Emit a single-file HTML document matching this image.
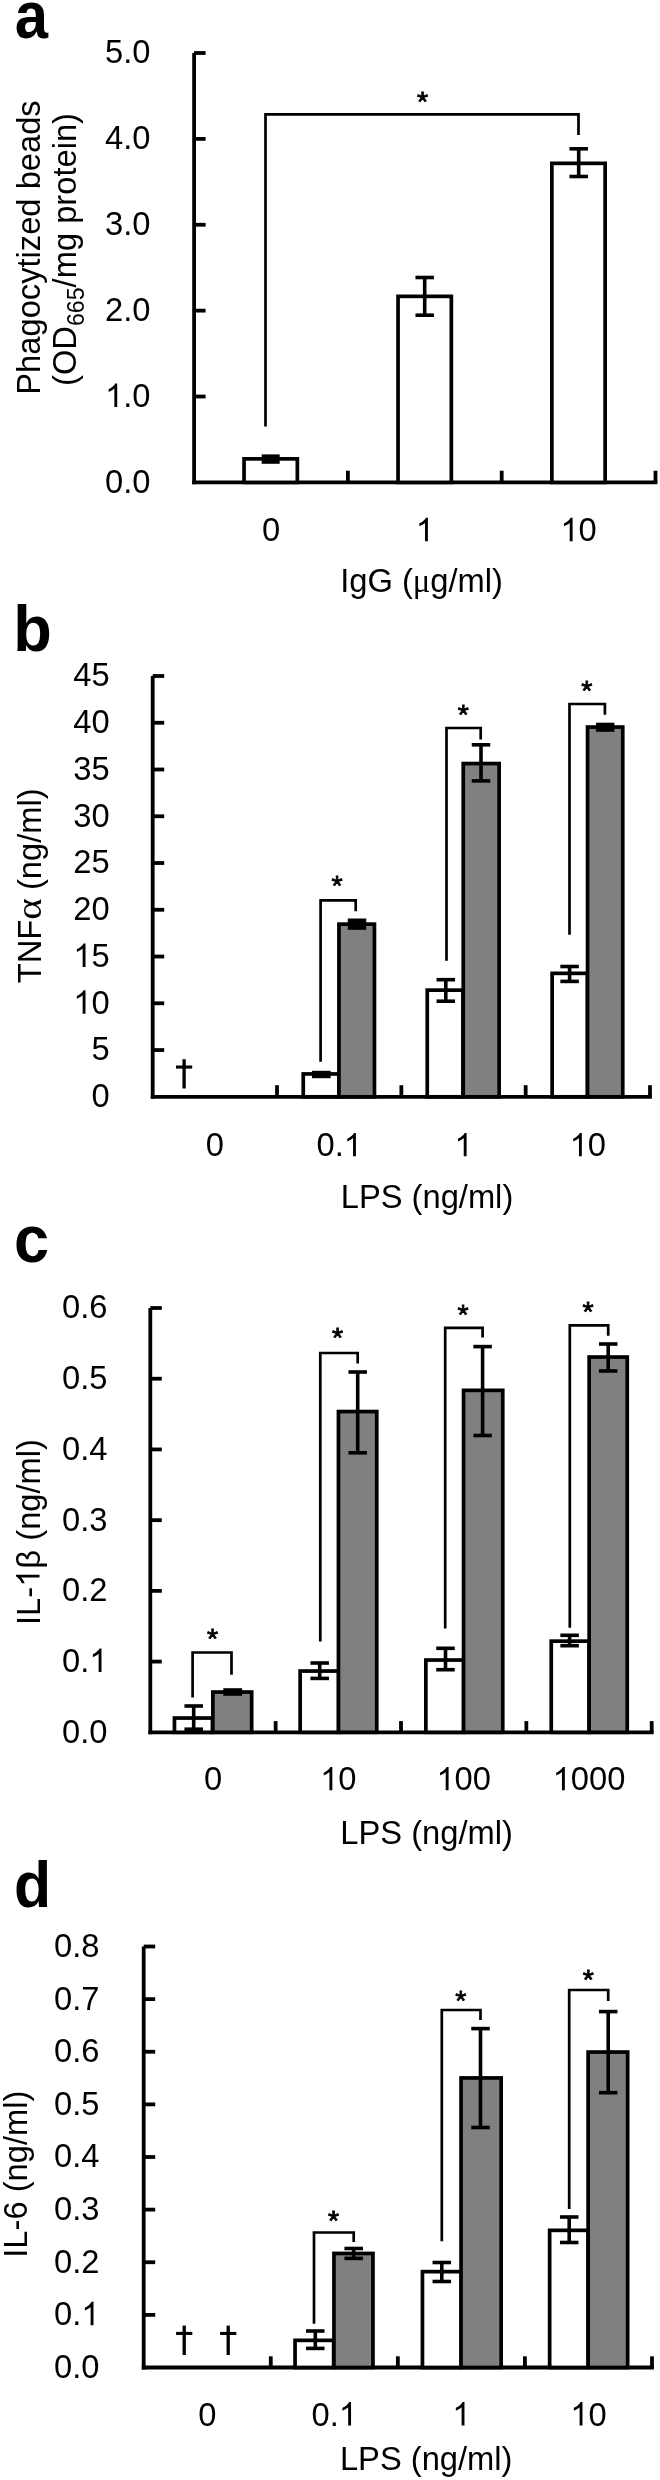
<!DOCTYPE html>
<html><head><meta charset="utf-8"><title>Figure</title>
<style>
html,body{margin:0;padding:0;background:#fff;}
svg{display:block;filter:grayscale(1);font-family:"Liberation Sans",sans-serif;fill:#000;}
</style></head><body>
<svg width="660" height="2480" viewBox="0 0 660 2480">
<rect width="660" height="2480" fill="#fff"/>
<text transform="translate(16.40 37.50) scale(0.935 1.047)" x="-1.9" y="0" font-size="64" font-weight="700">a</text>
<line x1="194.10" y1="53.00" x2="194.10" y2="484.30" stroke="#000" stroke-width="3.8" stroke-linecap="butt"/>
<line x1="192.20" y1="482.40" x2="657.40" y2="482.40" stroke="#000" stroke-width="3.8" stroke-linecap="butt"/>
<line x1="655.50" y1="482.40" x2="655.50" y2="470.70" stroke="#000" stroke-width="3.8" stroke-linecap="butt"/>
<line x1="194.10" y1="53.00" x2="205.60" y2="53.00" stroke="#000" stroke-width="3.8" stroke-linecap="butt"/>
<line x1="194.10" y1="138.88" x2="205.60" y2="138.88" stroke="#000" stroke-width="3.8" stroke-linecap="butt"/>
<line x1="194.10" y1="224.76" x2="205.60" y2="224.76" stroke="#000" stroke-width="3.8" stroke-linecap="butt"/>
<line x1="194.10" y1="310.64" x2="205.60" y2="310.64" stroke="#000" stroke-width="3.8" stroke-linecap="butt"/>
<line x1="194.10" y1="396.52" x2="205.60" y2="396.52" stroke="#000" stroke-width="3.8" stroke-linecap="butt"/>
<line x1="347.90" y1="482.40" x2="347.90" y2="470.70" stroke="#000" stroke-width="3.8" stroke-linecap="butt"/>
<line x1="501.70" y1="482.40" x2="501.70" y2="470.70" stroke="#000" stroke-width="3.8" stroke-linecap="butt"/>
<g><text x="105.04" y="63.40" font-size="32.7">5.0</text></g>
<g><text x="105.04" y="149.28" font-size="32.7">4.0</text></g>
<g><text x="105.04" y="235.16" font-size="32.7">3.0</text></g>
<g><text x="105.04" y="321.04" font-size="32.7">2.0</text></g>
<g><path transform="translate(105.04 406.92) scale(0.01597 -0.01597)" d="M763 0H583V1147Q518 1085 412.5 1023T223 930V1104Q373 1174.5 485.5 1275T644 1466H763Z"/><text x="123.23" y="406.92" font-size="32.7">.0</text></g>
<g><text x="105.04" y="492.80" font-size="32.7">0.0</text></g>
<rect x="244.05" y="458.85" width="53.30" height="23.55" fill="#fff" stroke="#000" stroke-width="3.7"/>
<rect x="398.05" y="296.35" width="53.30" height="186.05" fill="#fff" stroke="#000" stroke-width="3.7"/>
<rect x="551.85" y="163.35" width="53.30" height="319.05" fill="#fff" stroke="#000" stroke-width="3.7"/>
<rect x="261.70" y="454.40" width="18" height="9.40" fill="#000"/>
<line x1="424.70" y1="277.50" x2="424.70" y2="315.20" stroke="#000" stroke-width="3.6" stroke-linecap="butt"/>
<line x1="415.45" y1="277.50" x2="433.95" y2="277.50" stroke="#000" stroke-width="3.6" stroke-linecap="butt"/>
<line x1="415.45" y1="315.20" x2="433.95" y2="315.20" stroke="#000" stroke-width="3.6" stroke-linecap="butt"/>
<line x1="578.70" y1="148.80" x2="578.70" y2="176.50" stroke="#000" stroke-width="3.6" stroke-linecap="butt"/>
<line x1="569.45" y1="148.80" x2="587.95" y2="148.80" stroke="#000" stroke-width="3.6" stroke-linecap="butt"/>
<line x1="569.45" y1="176.50" x2="587.95" y2="176.50" stroke="#000" stroke-width="3.6" stroke-linecap="butt"/>
<path d="M265.50 426.50 V114.30 H578.50 V135.00" fill="none" stroke="#000" stroke-width="2.7" stroke-linejoin="miter"/>
<text x="422.50" y="111.20" font-size="28.5" text-anchor="middle" stroke="#000" stroke-width="0.8">*</text>
<g><text x="261.91" y="541.20" font-size="32.7">0</text></g>
<g><path transform="translate(415.71 541.20) scale(0.01597 -0.01597)" d="M763 0H583V1147Q518 1085 412.5 1023T223 930V1104Q373 1174.5 485.5 1275T644 1466H763Z"/></g>
<g><path transform="translate(560.41 541.20) scale(0.01597 -0.01597)" d="M763 0H583V1147Q518 1085 412.5 1023T223 930V1104Q373 1174.5 485.5 1275T644 1466H763Z"/><text x="578.60" y="541.20" font-size="32.7">0</text></g>
<text x="421.60" y="592.30" font-size="32.7" text-anchor="middle">IgG (<tspan font-family="Liberation Serif">μ</tspan>g/ml)</text>
<text x="39.50" y="247.50" font-size="32.7" text-anchor="middle" transform="rotate(-90 39.50 247.50)">Phagocytized beads</text>
<text x="76.00" y="249.50" font-size="32.7" text-anchor="middle" transform="rotate(-90 76.00 249.50)">(OD<tspan font-size="23.2" dy="8.3">665</tspan><tspan dy="-8.3">/mg protein)</tspan></text>
<text transform="translate(17.60 650.60) scale(0.985 1.0)" x="-4.5" y="0" font-size="64" font-weight="700">b</text>
<line x1="152.70" y1="676.00" x2="152.70" y2="1098.70" stroke="#000" stroke-width="3.8" stroke-linecap="butt"/>
<line x1="150.80" y1="1096.80" x2="651.90" y2="1096.80" stroke="#000" stroke-width="3.8" stroke-linecap="butt"/>
<line x1="650.00" y1="1096.80" x2="650.00" y2="1085.20" stroke="#000" stroke-width="3.8" stroke-linecap="butt"/>
<line x1="152.70" y1="676.00" x2="164.20" y2="676.00" stroke="#000" stroke-width="3.8" stroke-linecap="butt"/>
<line x1="152.70" y1="722.76" x2="164.20" y2="722.76" stroke="#000" stroke-width="3.8" stroke-linecap="butt"/>
<line x1="152.70" y1="769.51" x2="164.20" y2="769.51" stroke="#000" stroke-width="3.8" stroke-linecap="butt"/>
<line x1="152.70" y1="816.27" x2="164.20" y2="816.27" stroke="#000" stroke-width="3.8" stroke-linecap="butt"/>
<line x1="152.70" y1="863.02" x2="164.20" y2="863.02" stroke="#000" stroke-width="3.8" stroke-linecap="butt"/>
<line x1="152.70" y1="909.78" x2="164.20" y2="909.78" stroke="#000" stroke-width="3.8" stroke-linecap="butt"/>
<line x1="152.70" y1="956.53" x2="164.20" y2="956.53" stroke="#000" stroke-width="3.8" stroke-linecap="butt"/>
<line x1="152.70" y1="1003.29" x2="164.20" y2="1003.29" stroke="#000" stroke-width="3.8" stroke-linecap="butt"/>
<line x1="152.70" y1="1050.04" x2="164.20" y2="1050.04" stroke="#000" stroke-width="3.8" stroke-linecap="butt"/>
<line x1="277.02" y1="1096.80" x2="277.02" y2="1085.20" stroke="#000" stroke-width="3.8" stroke-linecap="butt"/>
<line x1="401.35" y1="1096.80" x2="401.35" y2="1085.20" stroke="#000" stroke-width="3.8" stroke-linecap="butt"/>
<line x1="525.67" y1="1096.80" x2="525.67" y2="1085.20" stroke="#000" stroke-width="3.8" stroke-linecap="butt"/>
<g><text x="73.33" y="686.40" font-size="32.7">45</text></g>
<g><text x="73.33" y="733.16" font-size="32.7">40</text></g>
<g><text x="73.33" y="779.91" font-size="32.7">35</text></g>
<g><text x="73.33" y="826.67" font-size="32.7">30</text></g>
<g><text x="73.33" y="873.42" font-size="32.7">25</text></g>
<g><text x="73.33" y="920.18" font-size="32.7">20</text></g>
<g><path transform="translate(73.33 966.93) scale(0.01597 -0.01597)" d="M763 0H583V1147Q518 1085 412.5 1023T223 930V1104Q373 1174.5 485.5 1275T644 1466H763Z"/><text x="91.51" y="966.93" font-size="32.7">5</text></g>
<g><path transform="translate(73.33 1013.69) scale(0.01597 -0.01597)" d="M763 0H583V1147Q518 1085 412.5 1023T223 930V1104Q373 1174.5 485.5 1275T644 1466H763Z"/><text x="91.51" y="1013.69" font-size="32.7">0</text></g>
<g><text x="91.51" y="1060.44" font-size="32.7">5</text></g>
<g><text x="91.51" y="1107.20" font-size="32.7">0</text></g>
<rect x="303.25" y="1073.95" width="35.70" height="22.85" fill="#fff" stroke="#000" stroke-width="3.7"/>
<rect x="338.95" y="924.15" width="35.50" height="172.65" fill="#808080" stroke="#000" stroke-width="3.7"/>
<rect x="427.25" y="990.15" width="35.70" height="106.65" fill="#fff" stroke="#000" stroke-width="3.7"/>
<rect x="463.25" y="763.55" width="35.90" height="333.25" fill="#808080" stroke="#000" stroke-width="3.7"/>
<rect x="552.15" y="973.35" width="35.30" height="123.45" fill="#fff" stroke="#000" stroke-width="3.7"/>
<rect x="587.55" y="727.05" width="35.20" height="369.75" fill="#808080" stroke="#000" stroke-width="3.7"/>
<rect x="312.00" y="1070.80" width="18.6" height="7.40" fill="#000"/>
<rect x="347.75" y="918.50" width="18.5" height="11.30" fill="#000"/>
<line x1="445.80" y1="979.70" x2="445.80" y2="1001.20" stroke="#000" stroke-width="3.6" stroke-linecap="butt"/>
<line x1="436.55" y1="979.70" x2="455.05" y2="979.70" stroke="#000" stroke-width="3.6" stroke-linecap="butt"/>
<line x1="436.55" y1="1001.20" x2="455.05" y2="1001.20" stroke="#000" stroke-width="3.6" stroke-linecap="butt"/>
<line x1="481.00" y1="744.80" x2="481.00" y2="780.90" stroke="#000" stroke-width="3.6" stroke-linecap="butt"/>
<line x1="471.75" y1="744.80" x2="490.25" y2="744.80" stroke="#000" stroke-width="3.6" stroke-linecap="butt"/>
<line x1="471.75" y1="780.90" x2="490.25" y2="780.90" stroke="#000" stroke-width="3.6" stroke-linecap="butt"/>
<line x1="569.60" y1="966.50" x2="569.60" y2="981.40" stroke="#000" stroke-width="3.6" stroke-linecap="butt"/>
<line x1="560.35" y1="966.50" x2="578.85" y2="966.50" stroke="#000" stroke-width="3.6" stroke-linecap="butt"/>
<line x1="560.35" y1="981.40" x2="578.85" y2="981.40" stroke="#000" stroke-width="3.6" stroke-linecap="butt"/>
<rect x="596.05" y="722.70" width="18.3" height="9.10" fill="#000"/>
<path d="M320.60 1061.70 V900.30 H355.70 V911.20" fill="none" stroke="#000" stroke-width="2.7" stroke-linejoin="miter"/>
<path d="M446.50 960.70 V728.00 H480.70 V739.40" fill="none" stroke="#000" stroke-width="2.7" stroke-linejoin="miter"/>
<path d="M569.50 934.80 V704.00 H604.90 V714.70" fill="none" stroke="#000" stroke-width="2.7" stroke-linejoin="miter"/>
<text x="337.00" y="895.00" font-size="28.5" text-anchor="middle" stroke="#000" stroke-width="0.8">*</text>
<text x="463.40" y="724.20" font-size="28.5" text-anchor="middle" stroke="#000" stroke-width="0.8">*</text>
<text x="586.70" y="700.20" font-size="28.5" text-anchor="middle" stroke="#000" stroke-width="0.8">*</text>
<rect x="182.45" y="1059.20" width="3.3" height="29.30"/>
<rect x="176.00" y="1065.50" width="16.2" height="3.1"/>
<g><text x="205.77" y="1156.30" font-size="32.7">0</text></g>
<g><text x="316.46" y="1156.30" font-size="32.7">0.</text><path transform="translate(343.73 1156.30) scale(0.01597 -0.01597)" d="M763 0H583V1147Q518 1085 412.5 1023T223 930V1104Q373 1174.5 485.5 1275T644 1466H763Z"/></g>
<g><path transform="translate(454.42 1156.30) scale(0.01597 -0.01597)" d="M763 0H583V1147Q518 1085 412.5 1023T223 930V1104Q373 1174.5 485.5 1275T644 1466H763Z"/></g>
<g><path transform="translate(569.65 1156.30) scale(0.01597 -0.01597)" d="M763 0H583V1147Q518 1085 412.5 1023T223 930V1104Q373 1174.5 485.5 1275T644 1466H763Z"/><text x="587.84" y="1156.30" font-size="32.7">0</text></g>
<text x="427.00" y="1208.00" font-size="32.7" text-anchor="middle">LPS (ng/ml)</text>
<g transform="translate(40.8 983.2) rotate(-90)" font-size="32.7"><text x="0" y="0">TNF</text><text transform="translate(63.4 0) scale(1.245 1.09)" x="0" y="0" font-family="Liberation Serif">α</text><text x="93.1" y="0">(ng/ml)</text></g>
<text transform="translate(16.40 1262.30) scale(0.985 1.05)" x="-2.5" y="0" font-size="64" font-weight="700">c</text>
<line x1="150.30" y1="1308.00" x2="150.30" y2="1734.20" stroke="#000" stroke-width="3.8" stroke-linecap="butt"/>
<line x1="148.40" y1="1732.30" x2="653.60" y2="1732.30" stroke="#000" stroke-width="3.8" stroke-linecap="butt"/>
<line x1="651.70" y1="1732.30" x2="651.70" y2="1721.10" stroke="#000" stroke-width="3.8" stroke-linecap="butt"/>
<line x1="150.30" y1="1308.00" x2="161.80" y2="1308.00" stroke="#000" stroke-width="3.8" stroke-linecap="butt"/>
<line x1="150.30" y1="1378.72" x2="161.80" y2="1378.72" stroke="#000" stroke-width="3.8" stroke-linecap="butt"/>
<line x1="150.30" y1="1449.43" x2="161.80" y2="1449.43" stroke="#000" stroke-width="3.8" stroke-linecap="butt"/>
<line x1="150.30" y1="1520.15" x2="161.80" y2="1520.15" stroke="#000" stroke-width="3.8" stroke-linecap="butt"/>
<line x1="150.30" y1="1590.87" x2="161.80" y2="1590.87" stroke="#000" stroke-width="3.8" stroke-linecap="butt"/>
<line x1="150.30" y1="1661.58" x2="161.80" y2="1661.58" stroke="#000" stroke-width="3.8" stroke-linecap="butt"/>
<line x1="275.65" y1="1732.30" x2="275.65" y2="1721.10" stroke="#000" stroke-width="3.8" stroke-linecap="butt"/>
<line x1="401.00" y1="1732.30" x2="401.00" y2="1721.10" stroke="#000" stroke-width="3.8" stroke-linecap="butt"/>
<line x1="526.35" y1="1732.30" x2="526.35" y2="1721.10" stroke="#000" stroke-width="3.8" stroke-linecap="butt"/>
<g><text x="62.04" y="1318.40" font-size="32.7">0.6</text></g>
<g><text x="62.04" y="1389.12" font-size="32.7">0.5</text></g>
<g><text x="62.04" y="1459.83" font-size="32.7">0.4</text></g>
<g><text x="62.04" y="1530.55" font-size="32.7">0.3</text></g>
<g><text x="62.04" y="1601.27" font-size="32.7">0.2</text></g>
<g><text x="62.04" y="1671.98" font-size="32.7">0.</text><path transform="translate(89.31 1671.98) scale(0.01597 -0.01597)" d="M763 0H583V1147Q518 1085 412.5 1023T223 930V1104Q373 1174.5 485.5 1275T644 1466H763Z"/></g>
<g><text x="62.04" y="1742.70" font-size="32.7">0.0</text></g>
<rect x="174.45" y="1718.05" width="38.00" height="14.25" fill="#fff" stroke="#000" stroke-width="3.7"/>
<rect x="212.85" y="1692.05" width="38.80" height="40.25" fill="#808080" stroke="#000" stroke-width="3.7"/>
<rect x="300.15" y="1671.05" width="38.50" height="61.25" fill="#fff" stroke="#000" stroke-width="3.7"/>
<rect x="338.45" y="1411.55" width="38.30" height="320.75" fill="#808080" stroke="#000" stroke-width="3.7"/>
<rect x="425.85" y="1660.05" width="37.80" height="72.25" fill="#fff" stroke="#000" stroke-width="3.7"/>
<rect x="463.55" y="1390.35" width="39.20" height="341.95" fill="#808080" stroke="#000" stroke-width="3.7"/>
<rect x="551.25" y="1641.15" width="37.90" height="91.15" fill="#fff" stroke="#000" stroke-width="3.7"/>
<rect x="589.15" y="1357.05" width="38.10" height="375.25" fill="#808080" stroke="#000" stroke-width="3.7"/>
<line x1="193.70" y1="1706.00" x2="193.70" y2="1729.20" stroke="#000" stroke-width="3.6" stroke-linecap="butt"/>
<line x1="184.45" y1="1706.00" x2="202.95" y2="1706.00" stroke="#000" stroke-width="3.6" stroke-linecap="butt"/>
<line x1="184.45" y1="1729.20" x2="202.95" y2="1729.20" stroke="#000" stroke-width="3.6" stroke-linecap="butt"/>
<rect x="223.30" y="1688.20" width="18.8" height="7.60" fill="#000"/>
<line x1="319.70" y1="1663.00" x2="319.70" y2="1678.40" stroke="#000" stroke-width="3.6" stroke-linecap="butt"/>
<line x1="310.45" y1="1663.00" x2="328.95" y2="1663.00" stroke="#000" stroke-width="3.6" stroke-linecap="butt"/>
<line x1="310.45" y1="1678.40" x2="328.95" y2="1678.40" stroke="#000" stroke-width="3.6" stroke-linecap="butt"/>
<line x1="357.70" y1="1372.00" x2="357.70" y2="1452.80" stroke="#000" stroke-width="3.6" stroke-linecap="butt"/>
<line x1="348.45" y1="1372.00" x2="366.95" y2="1372.00" stroke="#000" stroke-width="3.6" stroke-linecap="butt"/>
<line x1="348.45" y1="1452.80" x2="366.95" y2="1452.80" stroke="#000" stroke-width="3.6" stroke-linecap="butt"/>
<line x1="445.50" y1="1648.30" x2="445.50" y2="1669.70" stroke="#000" stroke-width="3.6" stroke-linecap="butt"/>
<line x1="436.25" y1="1648.30" x2="454.75" y2="1648.30" stroke="#000" stroke-width="3.6" stroke-linecap="butt"/>
<line x1="436.25" y1="1669.70" x2="454.75" y2="1669.70" stroke="#000" stroke-width="3.6" stroke-linecap="butt"/>
<line x1="482.60" y1="1346.60" x2="482.60" y2="1435.50" stroke="#000" stroke-width="3.6" stroke-linecap="butt"/>
<line x1="473.35" y1="1346.60" x2="491.85" y2="1346.60" stroke="#000" stroke-width="3.6" stroke-linecap="butt"/>
<line x1="473.35" y1="1435.50" x2="491.85" y2="1435.50" stroke="#000" stroke-width="3.6" stroke-linecap="butt"/>
<line x1="569.60" y1="1635.30" x2="569.60" y2="1645.70" stroke="#000" stroke-width="3.6" stroke-linecap="butt"/>
<line x1="560.35" y1="1635.30" x2="578.85" y2="1635.30" stroke="#000" stroke-width="3.6" stroke-linecap="butt"/>
<line x1="560.35" y1="1645.70" x2="578.85" y2="1645.70" stroke="#000" stroke-width="3.6" stroke-linecap="butt"/>
<line x1="608.20" y1="1344.00" x2="608.20" y2="1371.00" stroke="#000" stroke-width="3.6" stroke-linecap="butt"/>
<line x1="598.95" y1="1344.00" x2="617.45" y2="1344.00" stroke="#000" stroke-width="3.6" stroke-linecap="butt"/>
<line x1="598.95" y1="1371.00" x2="617.45" y2="1371.00" stroke="#000" stroke-width="3.6" stroke-linecap="butt"/>
<path d="M192.60 1697.50 V1652.50 H231.50 V1674.70" fill="none" stroke="#000" stroke-width="2.7" stroke-linejoin="miter"/>
<path d="M320.30 1641.50 V1353.00 H357.70 V1363.50" fill="none" stroke="#000" stroke-width="2.7" stroke-linejoin="miter"/>
<path d="M445.20 1628.50 V1327.80 H482.60 V1337.60" fill="none" stroke="#000" stroke-width="2.7" stroke-linejoin="miter"/>
<path d="M569.80 1627.70 V1325.30 H608.20 V1335.80" fill="none" stroke="#000" stroke-width="2.7" stroke-linejoin="miter"/>
<text x="212.50" y="1647.90" font-size="28.5" text-anchor="middle" stroke="#000" stroke-width="0.8">*</text>
<text x="337.50" y="1347.10" font-size="28.5" text-anchor="middle" stroke="#000" stroke-width="0.8">*</text>
<text x="463.00" y="1324.30" font-size="28.5" text-anchor="middle" stroke="#000" stroke-width="0.8">*</text>
<text x="588.00" y="1320.70" font-size="28.5" text-anchor="middle" stroke="#000" stroke-width="0.8">*</text>
<g><text x="203.88" y="1790.30" font-size="32.7">0</text></g>
<g><path transform="translate(320.14 1790.30) scale(0.01597 -0.01597)" d="M763 0H583V1147Q518 1085 412.5 1023T223 930V1104Q373 1174.5 485.5 1275T644 1466H763Z"/><text x="338.33" y="1790.30" font-size="32.7">0</text></g>
<g><path transform="translate(436.40 1790.30) scale(0.01597 -0.01597)" d="M763 0H583V1147Q518 1085 412.5 1023T223 930V1104Q373 1174.5 485.5 1275T644 1466H763Z"/><text x="454.58" y="1790.30" font-size="32.7">00</text></g>
<g><path transform="translate(552.65 1790.30) scale(0.01597 -0.01597)" d="M763 0H583V1147Q518 1085 412.5 1023T223 930V1104Q373 1174.5 485.5 1275T644 1466H763Z"/><text x="570.84" y="1790.30" font-size="32.7">000</text></g>
<text x="426.60" y="1844.00" font-size="32.7" text-anchor="middle">LPS (ng/ml)</text>
<g transform="rotate(-90 39.50 1532.00)"><text x="-53.49" y="1532.00" font-size="32.7">IL-</text><path transform="translate(-15.33 1532.00) scale(0.01597 -0.01597)" d="M763 0H583V1147Q518 1085 412.5 1023T223 930V1104Q373 1174.5 485.5 1275T644 1466H763Z"/><text x="2.86" y="1532.00" font-size="32.7">β (ng/ml)</text></g>
<text transform="translate(16.40 1906.70) scale(0.95 1.005)" x="-2.5" y="0" font-size="64" font-weight="700">d</text>
<line x1="143.70" y1="1946.50" x2="143.70" y2="2369.40" stroke="#000" stroke-width="3.8" stroke-linecap="butt"/>
<line x1="141.80" y1="2367.50" x2="653.90" y2="2367.50" stroke="#000" stroke-width="3.8" stroke-linecap="butt"/>
<line x1="652.00" y1="2367.50" x2="652.00" y2="2356.30" stroke="#000" stroke-width="3.8" stroke-linecap="butt"/>
<line x1="143.70" y1="1946.50" x2="155.20" y2="1946.50" stroke="#000" stroke-width="3.8" stroke-linecap="butt"/>
<line x1="143.70" y1="1999.12" x2="155.20" y2="1999.12" stroke="#000" stroke-width="3.8" stroke-linecap="butt"/>
<line x1="143.70" y1="2051.75" x2="155.20" y2="2051.75" stroke="#000" stroke-width="3.8" stroke-linecap="butt"/>
<line x1="143.70" y1="2104.38" x2="155.20" y2="2104.38" stroke="#000" stroke-width="3.8" stroke-linecap="butt"/>
<line x1="143.70" y1="2157.00" x2="155.20" y2="2157.00" stroke="#000" stroke-width="3.8" stroke-linecap="butt"/>
<line x1="143.70" y1="2209.62" x2="155.20" y2="2209.62" stroke="#000" stroke-width="3.8" stroke-linecap="butt"/>
<line x1="143.70" y1="2262.25" x2="155.20" y2="2262.25" stroke="#000" stroke-width="3.8" stroke-linecap="butt"/>
<line x1="143.70" y1="2314.88" x2="155.20" y2="2314.88" stroke="#000" stroke-width="3.8" stroke-linecap="butt"/>
<line x1="270.77" y1="2367.50" x2="270.77" y2="2356.30" stroke="#000" stroke-width="3.8" stroke-linecap="butt"/>
<line x1="397.85" y1="2367.50" x2="397.85" y2="2356.30" stroke="#000" stroke-width="3.8" stroke-linecap="butt"/>
<line x1="524.92" y1="2367.50" x2="524.92" y2="2356.30" stroke="#000" stroke-width="3.8" stroke-linecap="butt"/>
<g><text x="54.04" y="1956.90" font-size="32.7">0.8</text></g>
<g><text x="54.04" y="2009.53" font-size="32.7">0.7</text></g>
<g><text x="54.04" y="2062.15" font-size="32.7">0.6</text></g>
<g><text x="54.04" y="2114.78" font-size="32.7">0.5</text></g>
<g><text x="54.04" y="2167.40" font-size="32.7">0.4</text></g>
<g><text x="54.04" y="2220.03" font-size="32.7">0.3</text></g>
<g><text x="54.04" y="2272.65" font-size="32.7">0.2</text></g>
<g><text x="54.04" y="2325.28" font-size="32.7">0.</text><path transform="translate(81.31 2325.28) scale(0.01597 -0.01597)" d="M763 0H583V1147Q518 1085 412.5 1023T223 930V1104Q373 1174.5 485.5 1275T644 1466H763Z"/></g>
<g><text x="54.04" y="2377.90" font-size="32.7">0.0</text></g>
<rect x="295.05" y="2340.35" width="38.60" height="27.15" fill="#fff" stroke="#000" stroke-width="3.7"/>
<rect x="333.95" y="2253.45" width="39.00" height="114.05" fill="#808080" stroke="#000" stroke-width="3.7"/>
<rect x="422.45" y="2271.65" width="38.70" height="95.85" fill="#fff" stroke="#000" stroke-width="3.7"/>
<rect x="461.05" y="2077.95" width="40.10" height="289.55" fill="#808080" stroke="#000" stroke-width="3.7"/>
<rect x="549.65" y="2230.35" width="38.50" height="137.15" fill="#fff" stroke="#000" stroke-width="3.7"/>
<rect x="588.15" y="2052.05" width="39.50" height="315.45" fill="#808080" stroke="#000" stroke-width="3.7"/>
<line x1="315.30" y1="2331.00" x2="315.30" y2="2348.40" stroke="#000" stroke-width="3.6" stroke-linecap="butt"/>
<line x1="306.05" y1="2331.00" x2="324.55" y2="2331.00" stroke="#000" stroke-width="3.6" stroke-linecap="butt"/>
<line x1="306.05" y1="2348.40" x2="324.55" y2="2348.40" stroke="#000" stroke-width="3.6" stroke-linecap="butt"/>
<line x1="353.70" y1="2248.50" x2="353.70" y2="2258.40" stroke="#000" stroke-width="3.6" stroke-linecap="butt"/>
<line x1="344.45" y1="2248.50" x2="362.95" y2="2248.50" stroke="#000" stroke-width="3.6" stroke-linecap="butt"/>
<line x1="344.45" y1="2258.40" x2="362.95" y2="2258.40" stroke="#000" stroke-width="3.6" stroke-linecap="butt"/>
<line x1="441.80" y1="2262.50" x2="441.80" y2="2281.50" stroke="#000" stroke-width="3.6" stroke-linecap="butt"/>
<line x1="432.55" y1="2262.50" x2="451.05" y2="2262.50" stroke="#000" stroke-width="3.6" stroke-linecap="butt"/>
<line x1="432.55" y1="2281.50" x2="451.05" y2="2281.50" stroke="#000" stroke-width="3.6" stroke-linecap="butt"/>
<line x1="480.50" y1="2028.60" x2="480.50" y2="2127.50" stroke="#000" stroke-width="3.6" stroke-linecap="butt"/>
<line x1="471.25" y1="2028.60" x2="489.75" y2="2028.60" stroke="#000" stroke-width="3.6" stroke-linecap="butt"/>
<line x1="471.25" y1="2127.50" x2="489.75" y2="2127.50" stroke="#000" stroke-width="3.6" stroke-linecap="butt"/>
<line x1="569.20" y1="2217.00" x2="569.20" y2="2242.50" stroke="#000" stroke-width="3.6" stroke-linecap="butt"/>
<line x1="559.95" y1="2217.00" x2="578.45" y2="2217.00" stroke="#000" stroke-width="3.6" stroke-linecap="butt"/>
<line x1="559.95" y1="2242.50" x2="578.45" y2="2242.50" stroke="#000" stroke-width="3.6" stroke-linecap="butt"/>
<line x1="608.20" y1="2011.60" x2="608.20" y2="2092.70" stroke="#000" stroke-width="3.6" stroke-linecap="butt"/>
<line x1="598.95" y1="2011.60" x2="617.45" y2="2011.60" stroke="#000" stroke-width="3.6" stroke-linecap="butt"/>
<line x1="598.95" y1="2092.70" x2="617.45" y2="2092.70" stroke="#000" stroke-width="3.6" stroke-linecap="butt"/>
<path d="M314.00 2323.70 V2232.50 H353.70 V2242.00" fill="none" stroke="#000" stroke-width="2.7" stroke-linejoin="miter"/>
<path d="M441.80 2241.30 V2010.00 H480.50 V2020.00" fill="none" stroke="#000" stroke-width="2.7" stroke-linejoin="miter"/>
<path d="M569.20 2209.00 V1990.00 H608.20 V2001.00" fill="none" stroke="#000" stroke-width="2.7" stroke-linejoin="miter"/>
<text x="333.50" y="2229.70" font-size="28.5" text-anchor="middle" stroke="#000" stroke-width="0.8">*</text>
<text x="460.80" y="2009.50" font-size="28.5" text-anchor="middle" stroke="#000" stroke-width="0.8">*</text>
<text x="588.40" y="1988.70" font-size="28.5" text-anchor="middle" stroke="#000" stroke-width="0.8">*</text>
<rect x="182.55" y="2325.60" width="3.3" height="29.40"/>
<rect x="176.10" y="2331.90" width="16.2" height="3.1"/>
<rect x="226.55" y="2325.60" width="3.3" height="29.40"/>
<rect x="220.10" y="2331.90" width="16.2" height="3.1"/>
<g><text x="198.14" y="2425.50" font-size="32.7">0</text></g>
<g><text x="311.58" y="2425.50" font-size="32.7">0.</text><path transform="translate(338.86 2425.50) scale(0.01597 -0.01597)" d="M763 0H583V1147Q518 1085 412.5 1023T223 930V1104Q373 1174.5 485.5 1275T644 1466H763Z"/></g>
<g><path transform="translate(452.29 2425.50) scale(0.01597 -0.01597)" d="M763 0H583V1147Q518 1085 412.5 1023T223 930V1104Q373 1174.5 485.5 1275T644 1466H763Z"/></g>
<g><path transform="translate(570.28 2425.50) scale(0.01597 -0.01597)" d="M763 0H583V1147Q518 1085 412.5 1023T223 930V1104Q373 1174.5 485.5 1275T644 1466H763Z"/><text x="588.46" y="2425.50" font-size="32.7">0</text></g>
<text x="426.20" y="2470.20" font-size="32.7" text-anchor="middle">LPS (ng/ml)</text>
<text x="26.70" y="2174.20" font-size="32.7" text-anchor="middle" transform="rotate(-90 26.70 2174.20)">IL-6 (ng/ml)</text>
</svg>
</body></html>
